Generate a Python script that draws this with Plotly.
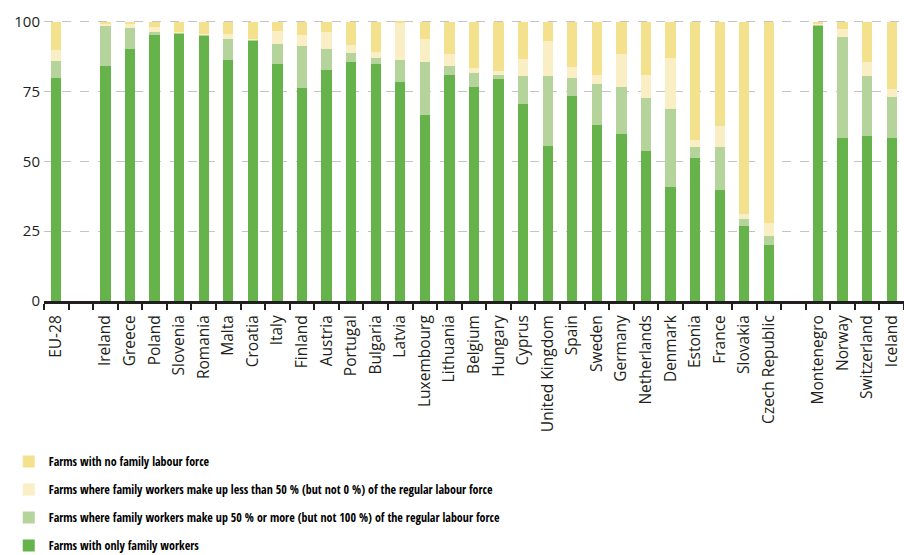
import plotly.graph_objects as go

categories = ["EU-28", " ", "Ireland", "Greece", "Poland", "Slovenia", "Romania", "Malta",
              "Croatia", "Italy", "Finland", "Austria", "Portugal", "Bulgaria", "Latvia",
              "Luxembourg", "Lithuania", "Belgium", "Hungary", "Cyprus", "United Kingdom",
              "Spain", "Sweden", "Germany", "Netherlands", "Denmark", "Estonia", "France",
              "Slovakia", "Czech Republic", "  ", "Montenegro", "Norway", "Switzerland", "Iceland"]

countries = ["EU-28", "Ireland", "Greece", "Poland", "Slovenia", "Romania", "Malta",
             "Croatia", "Italy", "Finland", "Austria", "Portugal", "Bulgaria", "Latvia",
             "Luxembourg", "Lithuania", "Belgium", "Hungary", "Cyprus", "United Kingdom",
             "Spain", "Sweden", "Germany", "Netherlands", "Denmark", "Estonia", "France",
             "Slovakia", "Czech Republic", "Montenegro", "Norway", "Switzerland", "Iceland"]

only_family = [80.0, 84.3, 90.2, 95.4, 95.8, 95.3, 86.5, 93.3, 85.1, 76.5, 82.9, 85.7, 85.1,
               78.6, 66.8, 81.0, 76.8, 79.7, 70.7, 55.7, 73.6, 63.0, 59.7, 53.9, 40.9, 51.4,
               39.8, 26.9, 20.1, 98.7, 58.5, 59.2, 58.5]
family_50_more = [6.0, 14.4, 7.8, 1.1, 0.3, 0.1, 7.5, 0.4, 7.1, 15.0, 7.3, 3.3, 1.9,
                  7.8, 18.9, 3.2, 5.0, 1.3, 9.8, 24.8, 6.3, 14.8, 17.0, 18.7, 28.0, 3.8,
                  15.4, 2.5, 3.2, 0.3, 36.2, 21.3, 14.6]
family_less_50 = [4.0, 0.6, 1.3, 1.7, 0.2, 0.2, 1.8, 0.2, 4.6, 3.8, 6.2, 2.8, 2.4,
                  13.3, 8.2, 4.3, 1.6, 1.4, 6.1, 12.7, 4.0, 3.2, 11.8, 8.4, 18.2, 2.4,
                  7.5, 1.9, 4.8, 0.2, 2.9, 5.2, 2.9]
no_family = [10.0, 0.7, 0.7, 1.8, 3.7, 4.4, 4.2, 6.1, 3.2, 4.7, 3.6, 8.2, 10.6,
             0.3, 6.1, 11.5, 16.6, 17.6, 13.4, 6.8, 16.1, 19.0, 11.5, 19.0, 12.9, 42.4,
             37.3, 68.7, 71.9, 0.8, 2.4, 14.3, 24.0]

series_names = [
    "Farms with only family workers",
    "Farms where family workers make up 50 % or more (but not 100 %) of the regular labour force",
    "Farms where family workers make up less than 50 % (but not 0 %) of the regular labour force",
    "Farms with no family labour force",
]
series_values = [only_family, family_50_more, family_less_50, no_family]
series_colors = ["#66b34b", "#b4d49b", "#faeec4", "#f4e18e"]
legend_ranks = [4, 3, 2, 1]

fig = go.Figure()
for i, (name, vals, col) in enumerate(zip(series_names, series_values, series_colors)):
    fig.add_trace(go.Bar(
        x=countries, y=vals, name=name, legendgroup=f"g{i}", legendrank=legend_ranks[i],
        marker=dict(color=col, line=dict(width=0)),
    ))

fig.update_layout(
    barmode="stack",
    bargap=0.58,
    width=904, height=555,
    margin=dict(l=44, r=0, t=20, b=254, autoexpand=False),
    plot_bgcolor="white", paper_bgcolor="white",
    font=dict(family="Open Sans, Noto Sans, sans-serif", color="#231f20"),
    showlegend=True,
    legend=dict(
        x=-0.041, xanchor="left", y=-0.52, yanchor="top",
        traceorder="grouped", tracegroupgap=9,
        font=dict(family="Liberation Sans Narrow, Open Sans Condensed, Roboto Condensed, sans-serif",
                  size=12, color="#000", weight="bold"),
        itemwidth=30,
        bgcolor="rgba(0,0,0,0)",
    ),
    xaxis=dict(
        type="category", categoryorder="array", categoryarray=categories,
        tickangle=-90, tickfont=dict(size=15.5, color="#231f20"),
        ticks="outside", tickson="boundaries", ticklen=6, tickwidth=2, tickcolor="#231f20",
        showline=True, linecolor="#231f20", linewidth=3,
        showgrid=False, range=[-0.5, 34.5], fixedrange=True,
        automargin=False, ticklabelstandoff=5,
    ),
    yaxis=dict(
        range=[0, 100.7], tickvals=[0, 25, 50, 75, 100],
        tickfont=dict(size=15, color="#231f20"),
        showgrid=True, gridcolor="#c4c4c4", griddash="dash", gridwidth=1.3,
        zeroline=False, showline=False, ticks="", ticklabelstandoff=3,
        automargin=False,
    ),
)

fig.write_html("out.html",
               config={"displayModeBar": False},
               post_script="document.body.style.margin='0';document.body.style.overflow='hidden';")
